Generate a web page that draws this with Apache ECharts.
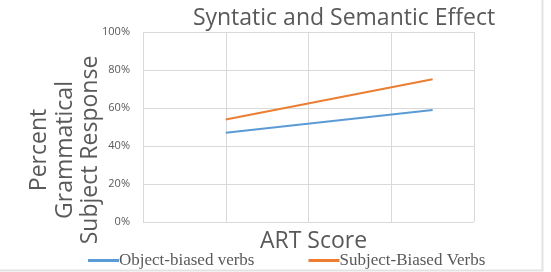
<!DOCTYPE html>
<html>
<head>
<meta charset="utf-8">
<script src="https://cdn.jsdelivr.net/npm/echarts@6/dist/echarts.min.js"></script>
<style>
  html, body { margin: 0; padding: 0; background: #fff; }
  #main { width: 551px; height: 272px; }
</style>
</head>
<body>
<div id="main"></div>
<script>
// ART score positions on the x axis and percent of grammatical subject responses
var artScore = [1, 3.5];
var objectBiased = [47, 59];
var subjectBiased = [54, 75.1];
var yTicks = [0, 20, 40, 60, 80, 100];

var seriesNames = ['Object-biased verbs', 'Subject-Biased Verbs'];

function pairs(xs, ys) {
  return xs.map(function (x, i) { return [x, ys[i]]; });
}

var chart = echarts.init(document.getElementById('main'));

var option = {
  backgroundColor: '#fff',
  animation: false,
  title: {
    text: 'Syntatic and Semantic Effect',
    left: 339,
    top: 2,
    textAlign: 'center',
    textStyle: {
      fontFamily: 'Open Sans',
      fontSize: 23,
      fontWeight: 'normal',
      color: '#595959'
    }
  },
  legend: {
    data: seriesNames,
    left: 83,
    top: 247,
    itemWidth: 31,
    itemHeight: 3,
    itemGap: 54,
    icon: 'rect',
    textStyle: {
      fontFamily: 'Liberation Serif',
      fontSize: 17,
      color: '#595959',
      padding: [0, 0, 0, -5]
    }
  },
  grid: {
    left: 143,
    right: 77,
    top: 32,
    bottom: 50
  },
  xAxis: {
    type: 'value',
    min: 0,
    max: 4,
    interval: 1,
    name: 'ART Score',
    nameLocation: 'middle',
    nameGap: 8,
    nameTextStyle: {
      fontFamily: 'Open Sans',
      fontSize: 23,
      color: '#595959',
      verticalAlign: 'top',
      padding: [0, 0, 0, 10]
    },
    axisLine: { show: false },
    axisTick: { show: false },
    axisLabel: { show: false },
    splitLine: { lineStyle: { color: '#d9d9d9', width: 1 } }
  },
  yAxis: {
    type: 'value',
    min: yTicks[0],
    max: yTicks[yTicks.length - 1],
    interval: 20,
    axisLine: { show: false },
    axisTick: { show: false },
    axisLabel: {
      formatter: '{value}%',
      margin: 13,
      fontFamily: 'Open Sans',
      fontSize: 11,
      color: '#595959'
    },
    splitLine: { lineStyle: { color: '#d9d9d9', width: 1 } }
  },
  graphic: [
    {
      type: 'text',
      x: 65,
      y: 150,
      rotation: Math.PI / 2,
      style: {
        text: 'Percent\nGrammatical\nSubject Response',
        fontFamily: 'Open Sans',
        fontSize: 23,
        lineHeight: 25.5,
        fill: '#595959',
        align: 'center',
        verticalAlign: 'middle'
      }
    },
    {
      type: 'polyline',
      shape: { points: [[542.5, 0], [542.5, 270.5], [0, 270.5]] },
      style: { stroke: '#e3e3e3', lineWidth: 2, fill: null }
    }
  ],
  series: [
    {
      name: seriesNames[0],
      type: 'line',
      data: pairs(artScore, objectBiased),
      showSymbol: false,
      symbol: 'none',
      lineStyle: { color: '#5B9BD5', width: 2 },
      itemStyle: { color: '#5B9BD5' }
    },
    {
      name: seriesNames[1],
      type: 'line',
      data: pairs(artScore, subjectBiased),
      showSymbol: false,
      symbol: 'none',
      lineStyle: { color: '#ED7D31', width: 2 },
      itemStyle: { color: '#ED7D31' }
    }
  ]
};

chart.setOption(option);
window.onresize = chart.resize;
</script>
</body>
</html>
